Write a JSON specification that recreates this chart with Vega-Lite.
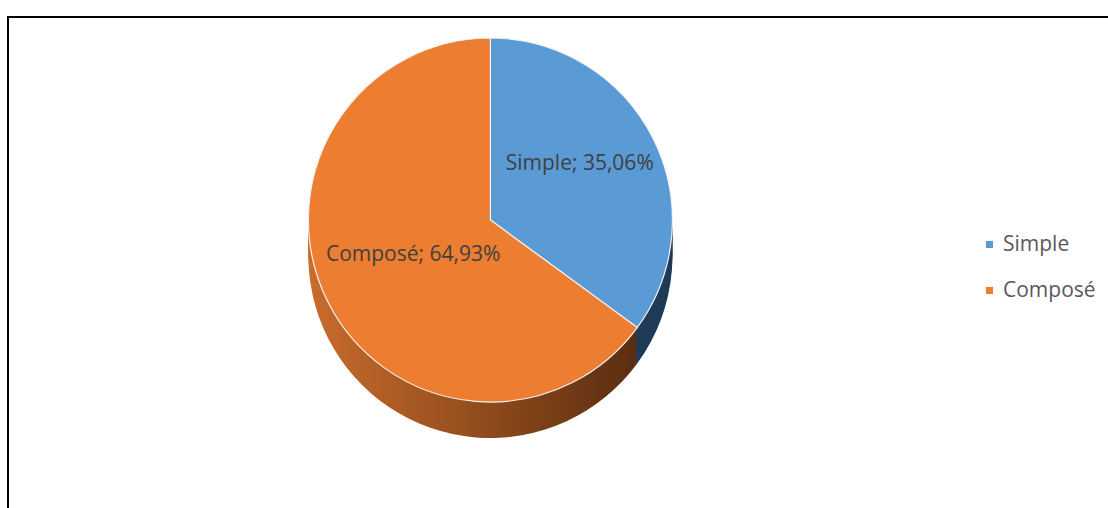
{
  "$schema": "https://vega.github.io/schema/vega-lite/v6.json",
  "width": 1108,
  "height": 508,
  "autosize": {"type": "fit", "contains": "padding"},
  "padding": {"left": 7, "top": 16, "right": -10, "bottom": -10},
  "background": "white",
  "config": {
    "view": {"stroke": null},
    "font": "Open Sans"
  },
  "data": {
    "values": [
      {"category": "Simple", "share": 35.06, "order": 1, "label": "Simple; 35,06%"},
      {"category": "Composé", "share": 64.93, "order": 2, "label": "Composé; 64,93%"}
    ]
  },
  "encoding": {
    "theta": {"field": "share", "type": "quantitative", "stack": true},
    "order": {"field": "order", "type": "quantitative"}
  },
  "layer": [
    {"mark": {"type": "rect", "fill": null, "stroke": "black", "strokeWidth": 2}, "encoding": {}},
    {"mark": {"type": "arc", "radius": 182, "x": {"expr": "width*0.435"}, "y": {"expr": "height*0.406+36"}},
     "encoding": {"fill": {"condition": {"test": "datum.category === 'Simple'", "value": "#1F3B57"}, "value": {"gradient": "linear", "x1": 0, "y1": 0, "x2": 1, "y2": 0, "stops": [{"offset": 0, "color": "#C96C2D"}, {"offset": 0.55, "color": "#8E4A1B"}, {"offset": 1, "color": "#5A2D11"}]}}}},
    {"mark": {"type": "arc", "radius": 182, "x": {"expr": "width*0.435"}, "y": {"expr": "height*0.406+32"}},
     "encoding": {"fill": {"condition": {"test": "datum.category === 'Simple'", "value": "#1F3B57"}, "value": {"gradient": "linear", "x1": 0, "y1": 0, "x2": 1, "y2": 0, "stops": [{"offset": 0, "color": "#C96C2D"}, {"offset": 0.55, "color": "#8E4A1B"}, {"offset": 1, "color": "#5A2D11"}]}}}},
    {"mark": {"type": "arc", "radius": 182, "x": {"expr": "width*0.435"}, "y": {"expr": "height*0.406+28"}},
     "encoding": {"fill": {"condition": {"test": "datum.category === 'Simple'", "value": "#1F3B57"}, "value": {"gradient": "linear", "x1": 0, "y1": 0, "x2": 1, "y2": 0, "stops": [{"offset": 0, "color": "#C96C2D"}, {"offset": 0.55, "color": "#8E4A1B"}, {"offset": 1, "color": "#5A2D11"}]}}}},
    {"mark": {"type": "arc", "radius": 182, "x": {"expr": "width*0.435"}, "y": {"expr": "height*0.406+24"}},
     "encoding": {"fill": {"condition": {"test": "datum.category === 'Simple'", "value": "#1F3B57"}, "value": {"gradient": "linear", "x1": 0, "y1": 0, "x2": 1, "y2": 0, "stops": [{"offset": 0, "color": "#C96C2D"}, {"offset": 0.55, "color": "#8E4A1B"}, {"offset": 1, "color": "#5A2D11"}]}}}},
    {"mark": {"type": "arc", "radius": 182, "x": {"expr": "width*0.435"}, "y": {"expr": "height*0.406+20"}},
     "encoding": {"fill": {"condition": {"test": "datum.category === 'Simple'", "value": "#1F3B57"}, "value": {"gradient": "linear", "x1": 0, "y1": 0, "x2": 1, "y2": 0, "stops": [{"offset": 0, "color": "#C96C2D"}, {"offset": 0.55, "color": "#8E4A1B"}, {"offset": 1, "color": "#5A2D11"}]}}}},
    {"mark": {"type": "arc", "radius": 182, "x": {"expr": "width*0.435"}, "y": {"expr": "height*0.406+16"}},
     "encoding": {"fill": {"condition": {"test": "datum.category === 'Simple'", "value": "#1F3B57"}, "value": {"gradient": "linear", "x1": 0, "y1": 0, "x2": 1, "y2": 0, "stops": [{"offset": 0, "color": "#C96C2D"}, {"offset": 0.55, "color": "#8E4A1B"}, {"offset": 1, "color": "#5A2D11"}]}}}},
    {"mark": {"type": "arc", "radius": 182, "x": {"expr": "width*0.435"}, "y": {"expr": "height*0.406+12"}},
     "encoding": {"fill": {"condition": {"test": "datum.category === 'Simple'", "value": "#1F3B57"}, "value": {"gradient": "linear", "x1": 0, "y1": 0, "x2": 1, "y2": 0, "stops": [{"offset": 0, "color": "#C96C2D"}, {"offset": 0.55, "color": "#8E4A1B"}, {"offset": 1, "color": "#5A2D11"}]}}}},
    {"mark": {"type": "arc", "radius": 182, "x": {"expr": "width*0.435"}, "y": {"expr": "height*0.406+8"}},
     "encoding": {"fill": {"condition": {"test": "datum.category === 'Simple'", "value": "#1F3B57"}, "value": {"gradient": "linear", "x1": 0, "y1": 0, "x2": 1, "y2": 0, "stops": [{"offset": 0, "color": "#C96C2D"}, {"offset": 0.55, "color": "#8E4A1B"}, {"offset": 1, "color": "#5A2D11"}]}}}},
    {"mark": {"type": "arc", "radius": 182, "x": {"expr": "width*0.435"}, "y": {"expr": "height*0.406+4"}},
     "encoding": {"fill": {"condition": {"test": "datum.category === 'Simple'", "value": "#1F3B57"}, "value": {"gradient": "linear", "x1": 0, "y1": 0, "x2": 1, "y2": 0, "stops": [{"offset": 0, "color": "#C96C2D"}, {"offset": 0.55, "color": "#8E4A1B"}, {"offset": 1, "color": "#5A2D11"}]}}}},
    {"mark": {"type": "arc", "radius": 182, "stroke": "#F2F2F2", "strokeWidth": 1.2, "x": {"expr": "width*0.435"}, "y": {"expr": "height*0.406"}},
     "encoding": {
       "color": {"field": "category", "type": "nominal",
         "scale": {"domain": ["Simple", "Composé"], "range": ["#5B9BD5", "#ED7D31"]},
         "legend": {"title": null, "orient": "none", "legendX": 971, "legendY": 217,
           "symbolType": "square", "symbolSize": 50, "symbolStrokeWidth": 0,
           "labelFontSize": 21, "labelColor": "#595959", "labelFont": "Open Sans",
           "rowPadding": 24, "labelOffset": 3, "padding": 0}}
     }},
    {"mark": {"type": "text", "radius": 145, "fontSize": 21, "color": "#404040", "dx": -40, "dy": 10, "x": {"expr": "width*0.435"}, "y": {"expr": "height*0.406"}},
     "encoding": {"text": {"condition": {"test": "datum.category === 'Simple'", "field": "label"}, "value": ""}}},
    {"mark": {"type": "text", "radius": 145, "fontSize": 21, "color": "#404040", "dx": 52, "dy": -31, "x": {"expr": "width*0.435"}, "y": {"expr": "height*0.406"}},
     "encoding": {"text": {"condition": {"test": "datum.category === 'Composé'", "field": "label"}, "value": ""}}}
  ]
}
